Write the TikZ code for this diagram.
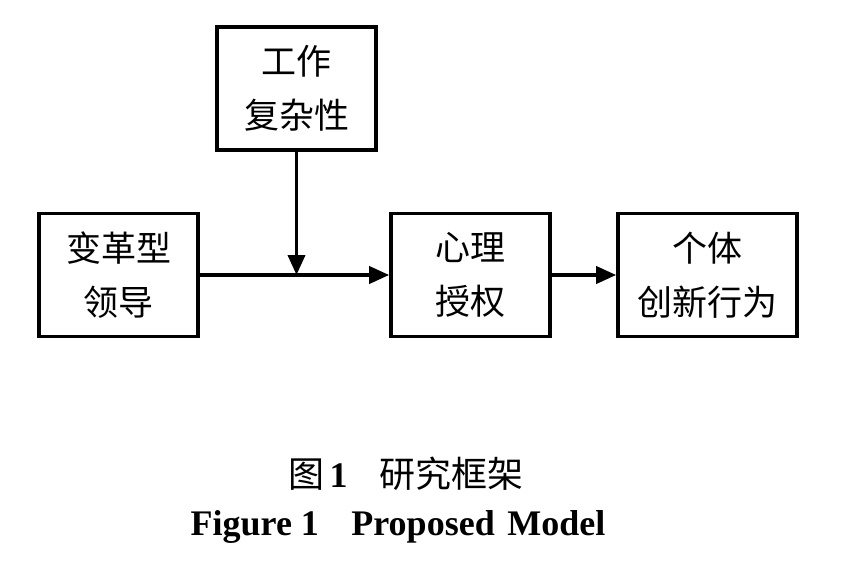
\documentclass[tikz,border=0pt]{standalone}
\usepackage{fontspec}
\setmainfont{Liberation Serif}
\newfontfamily\cjk{Noto Sans CJK SC}
\usetikzlibrary{arrows.meta}
\tikzset{
  boxnode/.style={draw, line width=3.6pt, rectangle, inner sep=0pt, align=center,
    minimum height=123pt, font=\cjk\fontsize{35}{54}\selectfont},
  conn/.style={line width=3.8pt, -{Triangle[length=20pt,width=17pt]}},
}
\begin{document}
\begin{tikzpicture}[x=1pt,y=-1pt]
\useasboundingbox (0,0) rectangle (854,570);
\node[boxnode, minimum width=159pt] (job) at (296.5,88.5) {工作\\复杂性};
\node[boxnode, minimum width=159pt] (lead) at (118.5,275) {变革型\\领导};
\node[boxnode, minimum width=159pt] (emp) at (470.5,275) {心理\\授权};
\node[boxnode, minimum width=179pt] (inn) at (707.5,275) {个体\\创新行为};
\coordinate (mod) at (296.5,275);
\draw[conn] (lead.east) -- (emp.west);
\draw[conn] (job.south) -- (mod);
\draw[conn] (emp.east) -- (inn.west);
\node (cap) at (406,474) {\cjk\fontsize{36}{40}\selectfont 图\hspace{0.15em}\textbf{\fontsize{36}{40}\selectfont\rmfamily 1}\hspace{0.9em}研究框架};
\node (capen) at (398,527) {\fontsize{36}{40}\selectfont\bfseries Figure 1\hspace{0.9em}Proposed\hspace{0.35em}Model};
\end{tikzpicture}
\end{document}
